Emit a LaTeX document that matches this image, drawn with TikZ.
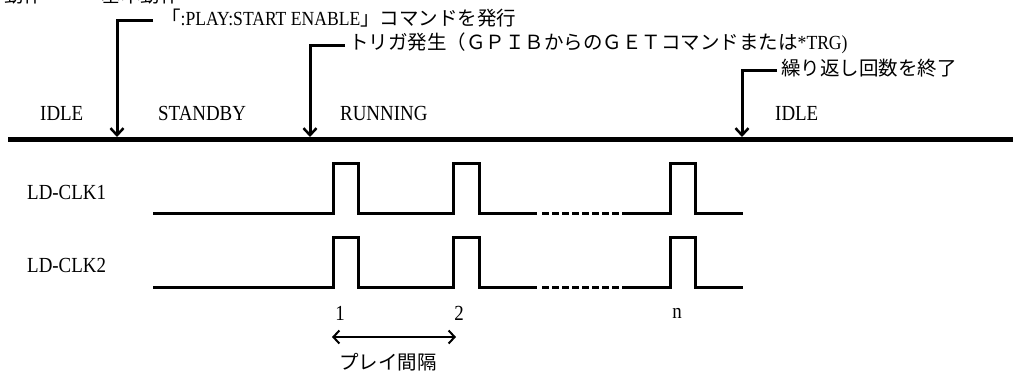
\documentclass[tikz,border=0pt]{standalone}
\usepackage{fontspec}
\setmainfont{Liberation Serif}
\newfontfamily\jp{Noto Sans CJK JP}
\newfontfamily\lat[FakeStretch=0.88]{Liberation Serif}
\usetikzlibrary{arrows.meta}
\begin{document}
\begin{tikzpicture}[x=1pt,y=-1pt,
  jtext/.style={inner sep=0pt, font=\jp\fontsize{19.5}{22}\selectfont},
  ltext/.style={inner sep=0pt, font=\lat\fontsize{21.5}{24}\selectfont},
  leader/.style={line width=3pt, -{Straight Barb[length=7pt,width=13pt,line width=2.5pt]}},
  statebar/.style={line width=5pt},
  wave/.style={line width=3pt, line join=miter},
  wavedash/.style={line width=3pt, dash pattern=on 6.5pt off 3.5pt},
  interval/.style={line width=2.5pt, {Straight Barb[length=6pt,width=13pt,line width=2pt]}-{Straight Barb[length=6pt,width=13pt,line width=2pt]}}]
\useasboundingbox (0,0) rectangle (1013,376);
\begin{scope}
\clip (0,0) rectangle (1013,376);
\node[jtext, anchor=base west] (title) at (4,2) {動作　―　基本動作};
\end{scope}
% top annotations
\node[jtext, anchor=west] (t1) at (161,18) {「{\lat\fontsize{20}{22}\selectfont :PLAY:START ENABLE}」コマンドを発行};
\node[jtext, anchor=west] (t2) at (349,43) {トリガ発生（ＧＰＩＢからのＧＥＴコマンドまたは{\lat\fontsize{20}{22}\selectfont *TRG)}};
\node[jtext, anchor=west] (t3) at (781,68) {繰り返し回数を終了};
% state bar
\coordinate (barL) at (8,139);
\coordinate (barR) at (1013,139);
\draw[statebar] (barL) -- (barR);
\coordinate (a1) at (117,137);
\coordinate (a2) at (310,137);
\coordinate (a3) at (742,137);
\draw[leader] ([xshift=-8pt,yshift=-2pt]t1.west) -| (a1);
\draw[leader] ([xshift=-4pt,yshift=-2pt]t2.west) -| (a2);
\draw[leader] ([xshift=-4pt,yshift=-2pt]t3.west) -| (a3);
% state labels
\node[ltext, anchor=west] (s1) at (40,113) {IDLE};
\node[ltext, anchor=west] (s2) at (158,113) {STANDBY};
\node[ltext, anchor=west] (s3) at (340,113) {RUNNING};
\node[ltext, anchor=west] (s4) at (775,113) {IDLE};
% clock labels
\node[ltext, anchor=west] (c1) at (27,192) {LD-CLK1};
\node[ltext, anchor=west] (c2) at (27,265) {LD-CLK2};
% waveforms
\foreach \lo/\hi in {213/163, 287/237}{
  \draw[wave] (153,\lo) -- (333,\lo) -- (333,\hi) -- (358,\hi) -- (358,\lo) -- (453,\lo) -- (453,\hi) -- (479,\hi) -- (479,\lo) -- (537,\lo);
  \draw[wavedash] (542,\lo) -- (622,\lo);
  \draw[wave] (622,\lo) -- (670,\lo) -- (670,\hi) -- (695,\hi) -- (695,\lo) -- (743,\lo);
}
% pulse numbers
\node[ltext] (n1) at (340,313) {1};
\node[ltext] (n2) at (459,313) {2};
\node[ltext] (nn) at (677,313) {n};
\coordinate (i1) at (332,337);
\coordinate (i2) at (456,337);
\draw[interval] (i1) -- (i2);
\node[jtext] (play) at (388,362) {プレイ間隔};
\end{tikzpicture}
\end{document}
